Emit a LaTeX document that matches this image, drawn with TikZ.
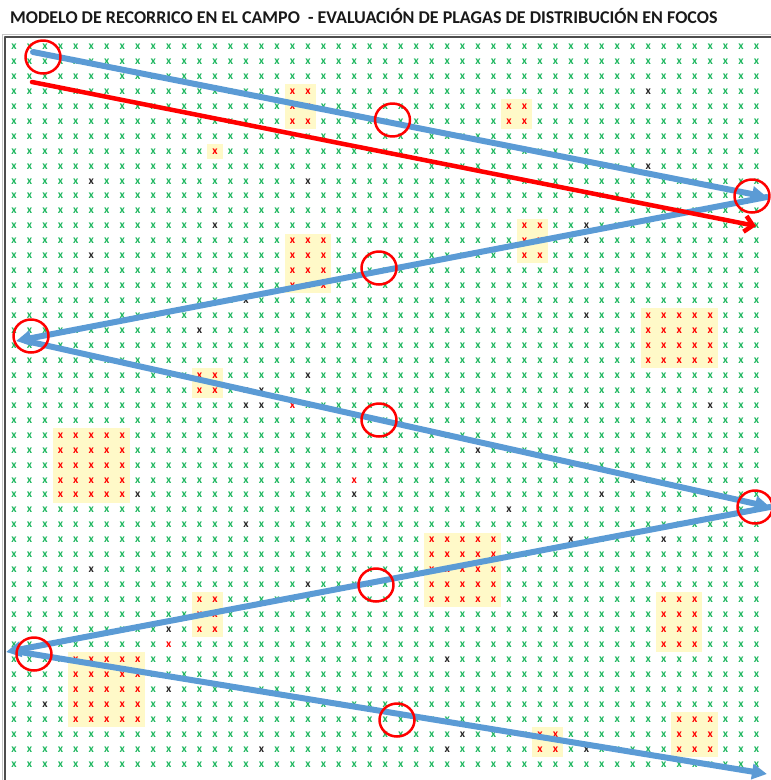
\documentclass[tikz,border=0pt]{standalone}
\usepackage{fontspec}
\setmainfont{Carlito}
\usetikzlibrary{arrows.meta,shapes.geometric}

\definecolor{plantgreen}{HTML}{1DB65E}
\definecolor{walkblue}{HTML}{5B9BD5}
\definecolor{focusyellow}{HTML}{FFF9C8}
\definecolor{framegray}{HTML}{4D4D4D}

\tikzset{
  plant/.style={text=plantgreen, inner sep=0pt, font=\fontsize{11.5}{11.5}\selectfont\bfseries},
  sick/.style={plant, text=red},
  dead/.style={plant, text=black!85},
  focus/.style={fill=focusyellow},
  walk/.style={draw=walkblue, line width=6pt, -{Triangle[length=15pt,width=15pt]}},
  trend/.style={draw=red, line width=4.5pt, -{Straight Barb[length=8pt,width=16pt]}},
  ring/.style={draw=red, line width=2.5pt, ellipse, minimum width=35pt, minimum height=33pt, inner sep=0pt},
}

\begin{document}
\begin{tikzpicture}[x=1pt, y=-1pt, line cap=round, line join=round]
		
		\useasboundingbox (0,0) rectangle (771,780);
		
		% Title
		\node[anchor=base west, inner sep=0pt, text=black!90, font=\fontsize{18}{20}\selectfont\bfseries]
		(title) at (10,23.5) {MODELO DE RECORRICO EN EL CAMPO\ \ - EVALUACIÓN DE PLAGAS DE DISTRIBUCIÓN EN FOCOS};
		
		% Frame of the field
		\draw[gray!45, line width=1pt] (2.5,780) -- (2.5,34.5) -- (771,34.5);
		\draw[framegray, line width=1.6pt] (5.2,780) -- (5.2,36.8) -- (771,36.8);
		
		\begin{scope}
		\clip (6,38) rectangle (771,780);
		\begin{scope}[shift={(14,46.7)}, x=15.47pt, y=-14.95pt]
			
			% Field of plants
			\foreach \c in {0,...,48}
			\foreach \r in {0,...,48}
			\node[plant] (p-\c-\r) at (\c,\r) {x};
			
			% Foci of the pest
			\foreach \ca/\cb/\ra/\rb in {18/19/3/5, 13/13/7/7, 32/33/4/5, 18/20/13/16,
				33/34/12/14, 41/45/18/21, 12/13/22/23, 3/7/26/30, 12/13/37/39,
				4/8/41/45, 27/31/33/37, 42/44/37/40, 43/45/45/47, 34/35/46/47}{
				\fill[focus] (\ca-0.5,\ra-0.5) rectangle (\cb+0.5,\rb+0.5);
				\foreach \c in {\ca,...,\cb}
				\foreach \r in {\ra,...,\rb}
				\node[sick] (s-\c-\r) at (\c,\r) {x};
			}
			
			% Isolated sick plants
			\foreach \c/\r in {18/24, 22/29, 10/40}{
				\fill[white] (\c-0.5,\r-0.5) rectangle (\c+0.5,\r+0.5);
				\node[sick] (s-\c-\r) at (\c,\r) {x};
			}
			
			% Dead plants
			\foreach \c/\r in {41/3, 41/8, 5/9, 19/9, 13/12, 37/12, 37/13, 5/14, 15/17,
				37/18, 12/19, 19/22, 15/23, 16/23, 15/24, 16/24, 37/24, 45/24,
				30/27, 40/29, 8/30, 22/30, 38/30, 45/30, 32/31, 15/32, 36/33, 42/33,
				5/35, 19/36, 35/38, 10/39, 28/41, 10/43, 2/44, 29/46, 16/47, 28/47, 37/47}{
				\fill[white] (\c-0.5,\r-0.5) rectangle (\c+0.5,\r+0.5);
				\node[dead] (d-\c-\r) at (\c,\r) {x};
			}
		\end{scope}
		
		% Zigzag walk through the field
		\coordinate (v0) at (33,52);
		\coordinate (v1) at (767,197);
		\coordinate (v2) at (16,341);
		\coordinate (v3) at (770,507);
		\coordinate (v4) at (6,652);
		\coordinate (v5) at (767,774);
		\draw[walk] (v0) -- (v1);
		\draw[walk] (v1) -- (v2);
		\draw[walk] ([xshift=10pt]v2) -- (v3);
		\draw[walk] (v3) -- (v4);
		\draw[walk] ([xshift=14pt]v4) -- (v5);
		
		% Red trend arrow
		\coordinate (t0) at (32,82);
		\coordinate (t1) at (756,226);
		\draw[trend] (t0) -- (t1);
		
		% Sampling points
		\node[ring] (c1) at (43,57) {};
		\node[ring] (c2) at (392.5,120) {};
		\node[ring] (c3) at (752,196) {};
		\node[ring] (c4) at (379,268) {};
		\node[ring] (c5) at (31,336) {};
		\node[ring] (c6) at (379,420) {};
		\node[ring] (c7) at (755,507) {};
		\node[ring] (c8) at (376,585) {};
		\node[ring] (c9) at (34,654) {};
		\node[ring] (c10) at (397,720) {};
		\end{scope}
		
	\end{tikzpicture}
\end{document}
